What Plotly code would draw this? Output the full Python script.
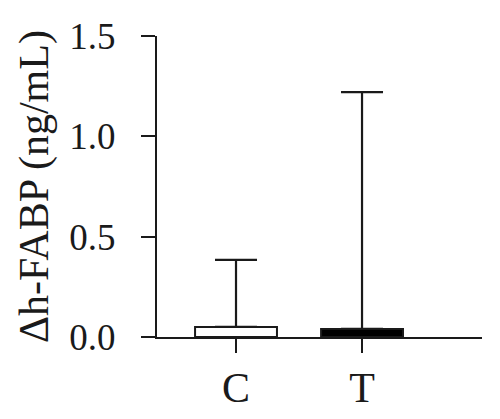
import plotly.graph_objects as go

categories = ["C", "T"]
means = [0.05, 0.04]
err_upper = [0.334, 1.18]
fill_colors = ["white", "black"]
y_ticks = [0.0, 0.5, 1.0, 1.5]
y_tick_labels = ["0.0", "0.5", "1.0", "1.5"]

FONT = "Liberation Serif, Times New Roman, serif"

fig = go.Figure()
fig.add_trace(go.Bar(
    x=categories,
    y=means,
    width=0.65,
    marker=dict(color=fill_colors, line=dict(color="#1a1a1a", width=2)),
    error_y=dict(type="data", symmetric=False, array=err_upper,
                 arrayminus=[0, 0], color="#1a1a1a", thickness=2.2, width=21),
    showlegend=False,
))

fig.update_layout(
    width=500, height=419,
    margin=dict(l=149, r=26, t=28, b=90),
    paper_bgcolor="white", plot_bgcolor="white",
    font=dict(family=FONT, color="#1a1a1a", size=37),
    xaxis=dict(
        range=[-0.627, 1.952],
        showline=True, linecolor="#1a1a1a", linewidth=2,
        ticks="outside", ticklen=14, tickwidth=2, tickcolor="#1a1a1a",
        tickfont=dict(size=42), ticklabelstandoff=-1,
        showgrid=False, zeroline=False, automargin=False,
    ),
    yaxis=dict(
        range=[0, 1.5],
        tickvals=y_ticks, ticktext=y_tick_labels,
        showline=True, linecolor="#1a1a1a", linewidth=2,
        ticks="outside", ticklen=14, tickwidth=2, tickcolor="#1a1a1a",
        tickfont=dict(size=37), ticklabelstandoff=18,
        showgrid=False, zeroline=False, automargin=False,
        title=dict(text="Δh-FABP (ng/mL)", font=dict(size=42), standoff=8),
    ),
)

fig.write_html("out.html")
